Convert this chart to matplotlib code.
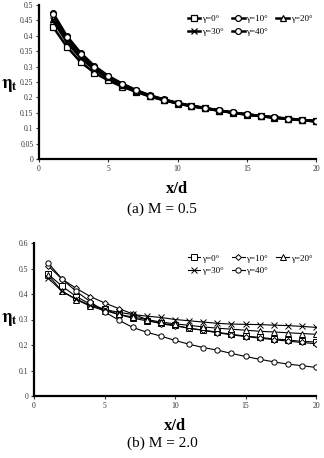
import matplotlib
matplotlib.use("Agg")
import matplotlib.pyplot as plt

plt.rcParams['font.family'] = ['Liberation Serif', 'DejaVu Serif']
plt.rcParams['mathtext.fontset'] = 'stix'

x = list(range(1, 21))
labels = ["γ=0°", "γ=10°", "γ=20°", "γ=30°", "γ=40°"]

# (a) M = 0.5
a_g0 = [0.430, 0.365, 0.315, 0.280, 0.255, 0.235, 0.218, 0.203, 0.191, 0.180,
        0.171, 0.164, 0.157, 0.150, 0.144, 0.139, 0.134, 0.130, 0.126, 0.122]
a_g10 = [0.475, 0.400, 0.345, 0.302, 0.270, 0.245, 0.224, 0.207, 0.194, 0.182,
         0.173, 0.166, 0.158, 0.151, 0.145, 0.140, 0.135, 0.131, 0.127, 0.123]
a_g20 = [0.455, 0.385, 0.333, 0.295, 0.265, 0.240, 0.221, 0.205, 0.192, 0.181,
         0.172, 0.165, 0.157, 0.151, 0.145, 0.139, 0.135, 0.130, 0.126, 0.123]
a_g30 = [0.450, 0.380, 0.328, 0.290, 0.262, 0.238, 0.220, 0.204, 0.191, 0.181,
         0.172, 0.164, 0.157, 0.150, 0.144, 0.139, 0.134, 0.130, 0.126, 0.122]
a_g40 = [0.470, 0.395, 0.340, 0.300, 0.268, 0.243, 0.223, 0.206, 0.193, 0.182,
         0.173, 0.165, 0.158, 0.151, 0.145, 0.140, 0.135, 0.131, 0.127, 0.123]

# (b) M = 2.0
b_g0 = [0.478, 0.430, 0.390, 0.360, 0.340, 0.320, 0.305, 0.295, 0.285, 0.278,
        0.265, 0.259, 0.250, 0.242, 0.235, 0.230, 0.224, 0.220, 0.214, 0.212]
b_g10 = [0.510, 0.458, 0.422, 0.390, 0.365, 0.343, 0.322, 0.300, 0.283, 0.275,
         0.266, 0.257, 0.248, 0.240, 0.233, 0.227, 0.221, 0.215, 0.210, 0.205]
b_g20 = [0.475, 0.410, 0.378, 0.352, 0.335, 0.320, 0.310, 0.300, 0.290, 0.283,
         0.277, 0.271, 0.266, 0.262, 0.258, 0.254, 0.251, 0.248, 0.245, 0.242]
b_g30 = [0.462, 0.410, 0.380, 0.355, 0.340, 0.328, 0.320, 0.313, 0.308, 0.300,
         0.295, 0.290, 0.285, 0.282, 0.281, 0.280, 0.278, 0.276, 0.273, 0.269]
b_g40 = [0.522, 0.458, 0.410, 0.370, 0.330, 0.298, 0.269, 0.250, 0.235, 0.218,
         0.203, 0.190, 0.180, 0.167, 0.155, 0.144, 0.134, 0.125, 0.119, 0.112]

markers = ['s', 'o', '^', 'x', 'o']

fig = plt.figure(figsize=(3.24, 4.58), dpi=100)
ax1 = fig.add_axes([39/324, 1-159/458, 277/324, 154/458])
ax2 = fig.add_axes([34/324, 1-396/458, 282/324, 153/458])

def style(ax, ymax, ystep, yticklabels):
    for s in ['top', 'right']:
        ax.spines[s].set_visible(False)
    for s in ['left', 'bottom']:
        ax.spines[s].set_linewidth(1.6)
    ax.set_xlim(0, 20)
    ax.set_ylim(0, ymax)
    ax.set_xticks([0, 5, 10, 15, 20])
    ax.set_xticklabels(['0', '5', '10', '15', '20'])
    n = len(yticklabels)
    ax.set_yticks([i * ystep for i in range(n)])
    ax.set_yticklabels(yticklabels)
    ax.tick_params(labelsize=5.5, length=2, width=0.8, direction='out',
                   colors='#333333', pad=2)

def row_legend(ax, anchor, spacing):
    h, l = ax.get_legend_handles_labels()
    order = [0, 3, 1, 4, 2]
    ax.legend([h[i] for i in order], [l[i] for i in order], loc='upper right',
              bbox_to_anchor=anchor, ncol=3, frameon=False, fontsize=6.5,
              handlelength=1.4, columnspacing=0.9, handletextpad=0.2,
              labelspacing=spacing, borderaxespad=0)

series_a = [a_g0, a_g10, a_g20, a_g30, a_g40]
for vals, m, lab in zip(series_a, markers, labels):
    ax1.plot(x, vals, color='black', lw=1.8, marker=m, ms=4.2,
             mfc='white' if m != 'x' else 'black', mec='black', mew=0.9, label=lab)
style(ax1, 0.5, 0.05, ['0', '0.05', '0.1', '0.15', '0.2', '0.25', '0.3',
                       '0.35', '0.4', '0.45', '0.5'])
row_legend(ax1, (1.0, 0.96), 0.55)

series_b = [b_g0, b_g10, b_g20, b_g30, b_g40]
markers_b = ['s', 'D', '^', 'x', 'o']
for vals, m, lab in zip(series_b, markers_b, labels):
    ax2.plot(x, vals, color='black', lw=0.8, marker=m, ms=3.8 if m != 'D' else 3,
             mfc='white', mec='black', mew=0.7, label=lab)
style(ax2, 0.6, 0.1, ['0', '0.1', '0.2', '0.3', '0.4', '0.5', '0.6'])
row_legend(ax2, (1.0, 0.95), 0.45)

# labels
for ax in (ax1, ax2):
    ax.set_xlabel('x/d', fontsize=12, fontweight='bold', labelpad=6)
    ax.set_ylabel(r'$\mathbf{\eta_t}$', fontsize=13, rotation=0, va='center',
                  ha='center')
ax1.yaxis.set_label_coords(-0.105, 0.48)
ax2.yaxis.set_label_coords(-0.088, 0.50)

fig.text(0.5, 1-209/458, '(a) M = 0.5', ha='center', va='center', fontsize=11)
fig.text(0.5, 1-443/458, '(b) M = 2.0', ha='center', va='center', fontsize=11)

fig.savefig('out.png', dpi=100)
